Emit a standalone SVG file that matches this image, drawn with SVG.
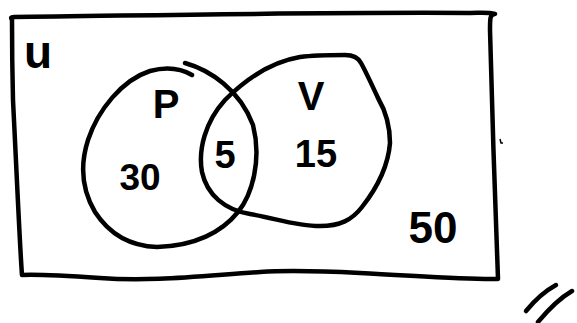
<svg xmlns="http://www.w3.org/2000/svg" width="577" height="323" viewBox="0 0 577 323">
<style>
.ln{fill:none;stroke:#000;stroke-width:4.5;stroke-linecap:round;stroke-linejoin:round}
.t{font-family:"Liberation Sans",Arial,sans-serif;font-weight:bold;fill:#000;text-anchor:middle}
</style>
<rect width="577" height="323" fill="#fff"/>
<g id="universe">
<path class="ln" d="M12,20 C11,18 10,17 14,17 C120,16 300,12 470,13 C480,13 488,12 495,14 C490,14 490,18 490,30 C492,110 495,200 498,279 C470,280 420,276 360,273 C320,271 290,270 260,272 C200,276 150,282 100,278 C70,276 40,274 22,275 C20,250 17,180 13,100 C12,60 12,35 12,20"/>
<text class="t" x="38" y="68" font-size="46">u</text>
</g>
<g id="set-P">
<path class="ln" d="M185,63 C210,70 240,90 253,125 C262,160 252,195 238,212 C222,232 195,246 157,247 C128,246 108,232 95,212 C82,190 80,165 88,140 C98,110 122,80 150,71 C165,67 180,68 192,75"/>
<text class="t" x="166" y="118" font-size="40">P</text>
<text class="t" x="140" y="190" font-size="37">30</text>
</g>
<g id="set-V">
<path class="ln" d="M300,57 C270,62 245,80 225,100 C205,122 198,150 202,172 C207,195 225,210 250,214 C275,218 295,226 320,226 C340,226 352,220 362,207 C377,188 388,168 390,143 C390,125 385,110 378,98 C372,85 366,72 361,63 C358,57 352,55 345,55 C330,55 315,55 300,57"/>
<text class="t" x="311" y="110" font-size="40">V</text>
<text class="t" x="316" y="167" font-size="38">15</text>
</g>
<g id="intersection">
<text class="t" x="225" y="168" font-size="38">5</text>
</g>
<g id="outside">
<text class="t" x="433" y="243" font-size="44">50</text>
</g>
<g id="marks">
<path d="M500,139 L501,143 L503,143" fill="none" stroke="#000" stroke-width="1.5"/>
<path class="ln" d="M526,311 C535,300 545,291 556,285" stroke-width="5"/>
<path class="ln" d="M538,322 C548,310 560,298 572,291" stroke-width="5"/>
</g>
</svg>
